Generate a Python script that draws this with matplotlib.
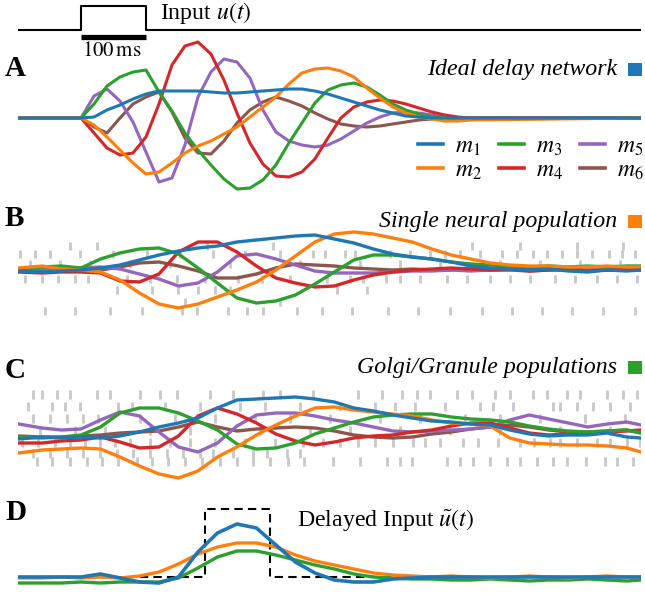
import matplotlib
matplotlib.use("Agg")
import matplotlib.pyplot as plt
from matplotlib.lines import Line2D
from matplotlib.patches import Rectangle

plt.rcParams["font.family"] = ["Liberation Serif", "DejaVu Serif"]
plt.rcParams["mathtext.fontset"] = "stix"

W, H = 645, 594
COLORS = ["#1f77b4", "#ff7f0e", "#2ca02c", "#d62728", "#9467bd", "#8c564b"]
SPIKE = "#c8c8c8"
T0, T1 = -97, 862  # ms shown across the width

# ---- input pulse u(t) ----
t_in = [-97, 0, 0, 100, 100, 862]
u_in = [0, 0, 1, 1, 0, 0]
scale_bar_ms = 100

# ---- A: ideal delay network (time in ms) ----
t_a = [-97, 0, 20, 40, 60, 80, 100, 120, 140, 160, 180, 200, 220, 240, 260, 280, 300,
       320, 340, 360, 380, 400, 420, 440, 460, 480, 500, 520, 540, 560, 580, 600, 862]
a_m1 = [0, 0, 1, 8, 13, 19, 24, 27, 27, 27, 27, 26, 25, 25, 26, 27, 28, 29, 29, 27, 24, 20,
        16, 12, 8, 5, 2, 1, 0, 0, 0, 0, 0]
a_m2 = [0, 0, -7, -19, -32, -45, -56, -54, -45, -35, -28, -23, -16, -9, 1, 11, 21, 34, 45, 49,
        50, 47, 41, 30, 20, 11, 5, 1, -1, -3, -3, -2, 0]
a_m3 = [0, 0, 14, 32, 41, 46, 48, 26, 7, -15, -32, -47, -61, -71, -70, -62, -47, -25, -5, 15,
        28, 33, 35, 31, 23, 14, 8, 4, 1, 0, -1, -1, 0]
a_m4 = [0, 0, -15, -30, -37, -35, -19, 14, 53, 72, 76, 64, 38, 5, -25, -46, -58, -59, -54, -41,
        -20, 0, 11, 16, 18, 17, 14, 10, 6, 3, 1, 0, 0]
a_m5 = [0, 0, 22, 29, 17, -4, -34, -64, -60, -27, 21, 46, 59, 56, 40, 8, -14, -23, -27, -29,
        -27, -21, -13, -5, 1, 5, 6, 5, 3, 1, 0, 0, 0]
a_m6 = [0, 0, -9, -15, 0, 14, 21, 26, 6, -20, -35, -36, -23, -5, 8, 16, 21, 17, 12, 5, -1,
        -6, -8, -9, -8, -6, -4, -2, -1, 0, 0, 0, 0]

# ---- B, C, D share one time grid ----
t_s = [-96, -60, -30, 0, 30, 60, 90, 120, 150, 180, 210, 240, 270, 300, 330, 360, 390, 420,
       450, 480, 510, 540, 570, 600, 630, 660, 690, 720, 750, 780, 810, 840, 862]

b_m1 = [-1, -2, -1, 0, 2, 5, 10, 15, 19, 22, 24, 28, 30, 32, 34, 35, 31, 27, 21, 16, 13, 11,
        8, 4, 2, 1, 0, 1, -1, -2, 0, -1, 0]
b_m2 = [2, 4, 1, 0, -2, -10, -23, -34, -38, -34, -27, -20, -12, 0, 14, 28, 36, 38, 36, 32, 28,
        21, 15, 11, 7, 5, 4, 4, 3, 3, 4, 3, 3]
b_m3 = [0, 3, 4, 2, 11, 17, 21, 22, 16, 2, -13, -28, -33, -31, -25, -14, -2, 10, 15, 15, 13,
        11, 8, 6, 5, 4, 3, 4, 3, 4, 3, 4, 4]
b_m4 = [-2, -3, -2, -2, -3, -11, -12, -4, 18, 28, 28, 18, 4, -8, -13, -17, -16, -10, -5, -2,
        0, 1, 2, 1, 0, 1, -1, 0, 1, -1, 0, 0, 1]
b_m5 = [0, 0, 1, 2, 3, 1, -4, -9, -16, -13, -2, 14, 16, 11, 5, -1, -3, -3, -3, -2, -1, -1, 0,
        -1, 0, 0, 1, 0, 0, 1, 0, 0, 0]
b_m6 = [0, 0, 1, 1, 0, 3, 7, 8, 4, -1, -8, -8, -4, 2, 6, 5, 4, 2, 1, 0, 1, 0, 0, 1, 0, 0, -1,
        0, 1, 0, 0, 1, 0]

c_m1 = [-2, 0, -1, 0, -1, 1, 5, 10, 14, 19, 29, 37, 38, 39, 40, 38, 35, 29, 26, 22, 19, 16,
        15, 13, 12, 7, 3, 1, 2, 2, 4, 0, -1]
c_m2 = [-16, -13, -12, -11, -12, -20, -29, -37, -41, -34, -20, -10, 2, 12, 21, 29, 30, 27, 25,
        23, 21, 17, 14, 13, 11, -1, -6, -7, -8, -8, -9, -11, -15]
c_m3 = [0, -1, 0, 2, 10, 24, 29, 29, 24, 16, 7, -7, -12, -11, -6, 3, 9, 15, 20, 22, 23, 23,
        20, 18, 17, 15, 11, 8, 6, 5, 6, 7, 4]
c_m4 = [-6, -6, -4, -3, 0, -5, -11, -10, 1, 21, 29, 23, 14, 3, -4, -8, -5, -1, 1, 2, 5, 7, 11,
        14, 14, 9, 4, 2, 3, 4, 5, 6, 7]
c_m5 = [13, 9, 7, 8, 17, 25, 21, 5, -10, -15, -6, 11, 22, 24, 24, 21, 17, 14, 10, 6, 5, 6, 7,
        8, 10, 17, 22, 18, 14, 10, 13, 15, 12]
c_m6 = [1, 0, 0, 1, 2, 4, 5, 6, 10, 15, 10, 6, 8, 9, 10, 9, 6, 2, 0, -1, 0, 3, 5, 8, 10, 12,
        10, 7, 5, 5, 6, 7, 4]

d_ideal = [0, 0, 0, 0, 3, -1, -5, -6, 0, 25, 44, 53, 49, 32, 15, 4, -3, -5, -5, -2, -1, 0, 0,
           0, 0, 0, 0, 0, 0, 0, 0, 0, 0]
d_single = [-1, -1, 0, -1, 0, -1, 1, 5, 13, 23, 30, 34, 34, 30, 22, 16, 12, 8, 4, 2, 1, 0, 1,
            0, -1, 0, 1, 0, -1, 0, 1, 0, 0]
d_golgi = [-6, -6, -6, -5, -6, -5, -5, -5, -1, 9, 20, 26, 26, 22, 17, 12, 8, 3, 0, -1, -2, -2,
           -3, -3, -2, -3, -4, -3, -3, -2, -3, -4, -3]
t_delayed = [-97, 191, 191, 291, 291, 862]
u_delayed = [0, 0, 68, 68, 0, 0]

# ---- spike rasters (spike times in ms, one list per neuron) ----
b_row_y = [24, 16, 6, -9, -20, -32, -41]
b_spikes = [
    [-17, 25, 194, 296, 602, 676, 764, 835],
    [-94, -71, -48, -2, 49, 102, 152, 203, 253, 306, 357, 376, 407, 422, 476, 507, 537, 561,
     584, 614, 648, 671, 695, 718, 741, 764, 787, 812, 833, 853],
    [-79, -32, 14, 75, 137, 229, 337, 430, 491, 553, 645, 707, 768, 830],
    [-86, -60, -35, -9, 11, 71, 106, 148, 191, 242, 279, 322, 379, 414, 434, 470, 491, 522,
     564, 594, 630, 661, 691, 730, 761, 795, 825, 856],
    [55, 109, 149, 180, 206, 229, 394, 440],
    [160, 306],
    [-55, -9, 45, 94, 156, 179, 226, 256, 280, 333, 371, 417, 473, 519, 568, 618, 664, 710,
     756, 804, 853],
]
c_row_y = [43, 31, 19, 7, -5, -16, -24]
c_spikes = [
    [-74, -60, -37, -17, 25, 45, 91, 122, 148, 199, 234, 280, 306, 357, 426, 463, 494, 517,
     537, 578, 602, 637, 660, 696, 717, 748, 768, 810, 834, 856],
    [-82, -45, -25, -2, 57, 78, 129, 183, 245, 283, 337, 399, 452, 483, 514, 560, 614, 634,
     665, 726, 737, 763, 788, 814, 845],
    [-74, -48, -22, 3, 26, 91, 145, 206, 268, 322, 383, 460, 522, 591, 645, 707, 776, 837],
    [-63, -9, 37, 106, 168, 275, 352, 414, 491, 568, 645, 737, 814],
    [-91, -66, -40, -17, 6, 29, 52, 75, 106, 137, 168, 206, 252, 298, 342, 372, 398, 426,
     452, 480, 511, 529, 552, 588, 611, 642, 676, 698, 722, 737, 763, 794, 814, 840, 860],
    [-74, -48, -22, 3, 29, 55, 80, 106, 132, 157, 183, 203, 234, 265, 286, 317, 337],
    [-68, -45, -17, 9, 32, 57, 86, 109, 134, 160, 186, 214, 240, 265, 291, 318, 343, 388,
     429, 471, 491, 509, 563, 583, 603, 629, 655, 675, 702, 726, 748, 778, 806, 825, 849],
]

fig = plt.figure(figsize=(W / 100, H / 100), dpi=100)


def band(top, bottom, baseline, scale=1.0):
    """axes spanning pixel rows top..bottom, data 0 at pixel row `baseline`"""
    ax = fig.add_axes([18 / W, 1 - bottom / H, 623 / W, (bottom - top) / H])
    ax.set_xlim(T0, T1)
    ax.set_ylim((baseline - bottom) / scale, (baseline - top) / scale)
    ax.axis("off")
    return ax


def fx(x, y):
    return x / W, 1 - y / H


# input row
ax0 = band(0, 45, 30, scale=24)
ax0.plot(t_in, u_in, color="k", lw=1.5)
ax0.plot([0, scale_bar_ms], [-0.29, -0.29], color="k", lw=3.8, solid_capstyle="butt")
fig.text(*fx(160, 13), "Input $u(t)$", fontsize=17.2, va="center", ha="left")
fig.text(*fx(112, 51), r"$100\,\mathrm{ms}$", fontsize=15, va="center", ha="center")

# A
axa = band(40, 200, 118)
for y, c in reversed(list(zip([a_m1, a_m2, a_m3, a_m4, a_m5, a_m6], COLORS))):
    axa.plot(t_a, y, color=c, lw=2.2)
handles = [Line2D([], [], color=c, lw=2.6) for c in COLORS]
labels = [f"$m_{i}$" for i in range(1, 7)]
axa.legend(handles, labels, ncol=3, loc="upper left", frameon=False, fontsize=17,
           bbox_to_anchor=fx(418, 136), bbox_transform=fig.transFigure,
           handlelength=1.05, handletextpad=0.5, columnspacing=0.75, borderpad=0,
           borderaxespad=0, labelspacing=0.1)

# B
axb = band(225, 325, 270)
axb.eventplot(b_spikes, lineoffsets=b_row_y, linelengths=8, colors=SPIKE, linewidths=2)
for y, c in reversed(list(zip([b_m1, b_m2, b_m3, b_m4, b_m5, b_m6], COLORS))):
    axb.plot(t_s, y, color=c, lw=2.4)

# C
axc = band(380, 485, 437)
axc.eventplot(c_spikes, lineoffsets=c_row_y, linelengths=9, colors=SPIKE, linewidths=2)
for y, c in reversed(list(zip([c_m1, c_m2, c_m3, c_m4, c_m5, c_m6], COLORS))):
    axc.plot(t_s, y, color=c, lw=2.4)

# D
axd = band(495, 594, 577)
axd.plot(t_delayed, u_delayed, color="k", lw=1.5, ls=(0, (4, 2.5)))
axd.plot(t_s, d_golgi, color=COLORS[2], lw=2.4)
axd.plot(t_s, d_single, color=COLORS[1], lw=2.4)
axd.plot(t_s, d_ideal, color=COLORS[0], lw=2.6)
fig.text(*fx(297, 521), r"Delayed Input $\tilde{u}(t)$", fontsize=17.2, va="center",
         ha="left")

# panel titles with coloured squares
for txt, y, c in [("Ideal delay network", 70, COLORS[0]),
                  ("Single neural population", 222, COLORS[1]),
                  ("Golgi/Granule populations", 368, COLORS[2])]:
    fig.text(*fx(617, y), txt, fontsize=17.2, style="italic", va="center", ha="right")
    fig.add_artist(Rectangle(fx(628, y + 6), 14 / W, 13 / H, transform=fig.transFigure,
                             color=c, lw=0))

for lab, y in [("A", 68), ("B", 219), ("C", 370), ("D", 513)]:
    fig.text(*fx(5, y), lab, fontsize=21, weight="bold", va="center", ha="left")

fig.savefig("out.png", dpi=100)
